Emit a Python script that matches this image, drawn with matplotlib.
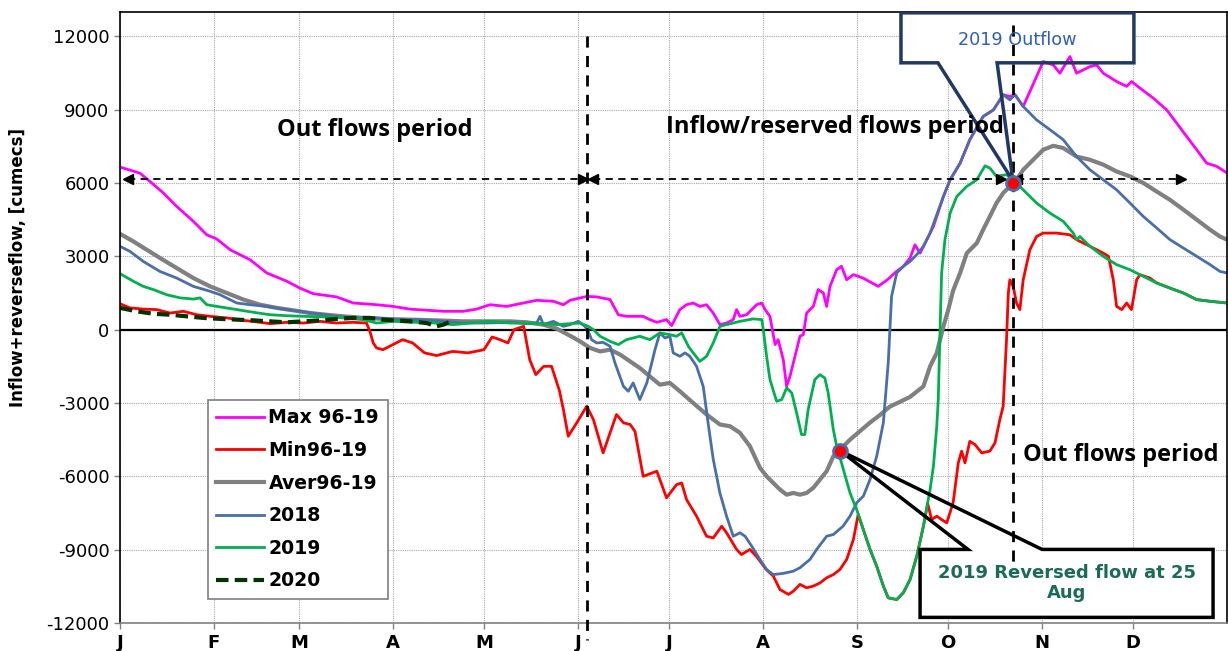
# -*- coding: utf-8 -*-
"""
Inflow + reverse flow, daily curves (max / min / average 96-19, 2018, 2019, 2020)
"""

import matplotlib
matplotlib.use('Agg')
import matplotlib.pyplot as plt
from matplotlib.patches import Polygon

# ---- data (day of year, cumecs) ----
max_day = [0, 6.6, 9.9, 14.3, 18.7, 24.2, 28.6, 31.9, 36.3, 42.9, 48.4, 55, 59.3, 63.7, 71.4,
           76.9, 84.6, 90.1, 95.6, 106.6, 113.2, 117.6, 122, 127.5, 133, 137.4, 142.9, 146.2,
           148.4, 153.9, 157.2, 161.6, 164.3, 167, 172.5, 174.7, 177, 180.2, 181.9, 184.6,
           186.8, 189, 191.2, 193.4, 195.6, 197.8, 200, 202.2, 203.3, 204.4, 206.6, 209.9,
           211.6, 212.7, 214.3, 216, 217, 218.7, 219.8, 220.9, 223.1, 224.2, 225.3, 226.4,
           228.6, 230.2, 231.9, 233, 234.1, 236.3, 237.9, 239.6, 241.8, 245, 250, 253, 256,
           258.3, 260.5, 262.1, 263.8, 268.2, 271.5, 273.7, 277, 280.2, 284.6, 288, 291.2,
           293.4, 295.1, 297.8, 302.2, 304.4, 307.7, 309.9, 313.2, 315.4, 319.8, 322, 324.2,
           328.6, 331.9, 333.5, 336.3, 340.7, 345.1, 348.4, 351.7, 355, 358.3, 361.6, 365]
max_val = [6650, 6400, 6060, 5590, 5040, 4430, 3880, 3710, 3270, 2860, 2320, 1980, 1700, 1470,
           1340, 1090, 1020, 950, 840, 750, 750, 840, 1020, 950, 1090, 1200, 1160, 1020,
           1200, 1360, 1340, 1230, 610, 545, 545, 410, 300, 410, 165, 820,
           1020, 1090, 950, 1020, 680, 205, 270, 410, 820, 545, 610, 1020,
           1090, 820, 545, -610, -410, -1230, -2320, -1910, -820, -270, -205, 680,
           950, 1640, 1500, 950, 1770, 2450, 2590, 2040, 2250, 2110, 1770, 2040, 2380,
           2590, 2930, 3470, 3130, 4220, 5450, 6130, 6810, 7770, 8720, 8990, 9610,
           9540, 9610, 9130, 10350, 10970, 10830, 10490, 11170, 10490, 10760, 10830, 10490,
           10150, 9950, 10150, 9880, 9470, 8990, 8450, 7900, 7360, 6810, 6680, 6410]

min_day = [0, 3.3, 7.7, 12.1, 16.5, 20.9, 25.3, 29.7, 35.2, 40.7, 46.2, 49.5, 55, 60.4, 65.9,
           71.4, 76.9, 81.3, 82.4, 83.5, 84.6, 86.7, 90, 93.2, 96.5, 100.4, 104.4, 109.6,
           114.8, 120, 122.7, 125.3, 127.9, 129.9, 133.1, 135.1, 137.1, 139.7, 142.3, 144.9,
           146.2, 147.8, 150.6, 153.9, 156.1, 159.3, 161.6, 163.7, 166, 168.2, 169.8, 172.5,
           177, 180.2, 183.5, 185.2, 186.8, 190.1, 193.4, 195.6, 198.4, 200, 203.3, 204.9,
           207.7, 210, 213, 215.4, 217.6, 220.4, 222, 224.2, 226.4, 228.6, 230.8, 233, 235.2,
           237.4, 239.6, 241.8, 243.4, 245.1, 247.3, 249.5, 251.7, 253.3, 256.1, 258.3, 260.5,
           262.7, 264.9, 266.3, 267.6, 269.3, 270.9, 272.6, 274.7, 276.4, 277.5, 278.6, 280.2,
           281.9, 284.1, 286.8, 288.5, 290.1, 291.2, 292.3, 292.9, 293.4, 294.5, 295.6, 296.7,
           297.8, 300, 302.2, 304.4, 308.8, 313.2, 315.4, 319.8, 324.2, 325.9, 327.5, 328.6,
           330.3, 331.9, 333.5, 335.2, 336.3, 339.6, 341.8, 346.2, 350.6, 355, 359.4, 365]
min_val = [1060, 890, 840, 820, 680, 750, 610, 545, 480, 380, 300, 245, 300, 270, 340,
           270, 300, 270, -70, -545, -750, -820, -610, -410, -545, -950, -1060, -890,
           -950, -820, -300, -410, -545, 0, 135, -1230, -1840, -1500, -1500, -2500,
           -3270, -4360, -3810, -3130, -3680, -5040, -4220, -3470, -3810, -3880, -4160, -6000,
           -5790, -6880, -6340, -6270, -6950, -7630, -8450, -8520, -8040, -8310, -8990, -9200,
           -8990, -9300, -9800, -10080, -10630, -10830, -10700, -10420, -10560, -10490, -10360, -10150, -10020,
           -9810, -9400, -8590, -7560, -8180, -8990, -9680, -10490, -10970, -11040, -10760, -10220,
           -9270, -8040, -7100, -7770, -7630, -7770, -7900, -7080, -5450, -4970, -5450, -4570,
           -4700, -5040, -4970, -4630, -3680, -3130, -410, 1500, 2040, 1770, 1090, 820,
           2040, 3270, 3810, 3950, 3950, 3880, 3680, 3410, 3130, 3000, 2040, 950,
           820, 1090, 820, 2040, 2250, 2110, 1910, 1700, 1500, 1230, 1160, 1090]

avg_day = [0, 4.4, 8.8, 13.2, 18.7, 24.2, 29.7, 35.2, 40.7, 46.2, 51.7, 57.1, 62.6, 68.1, 73.6,
           80.2, 86.8, 95.6, 104.4, 113.2, 122, 128.6, 134.1, 139.6, 144, 148.4, 151.7, 155,
           158.3, 161.6, 164.9, 168.2, 171.4, 174.7, 178, 181.3, 184.6, 189, 193.4, 197.8,
           201.1, 204.4, 207.7, 211, 213.2, 215.4, 217.6, 219.8, 222, 224.2, 226.4, 228.6,
           230.8, 233, 235.2, 237.4, 240.7, 244, 247.3, 250.5, 253.8, 257.2, 260.5, 264.9,
           267.1, 269.3, 271.5, 273.1, 274.7, 277, 279.2, 282.5, 284.6, 286.8, 289, 291.2,
           293.4, 295.6, 297.8, 301.1, 304.4, 307.7, 311, 315.4, 319.8, 324.2, 328.6, 333,
           337.4, 341.8, 346.2, 350.6, 355, 359.4, 362.7, 365]
avg_val = [3920, 3610, 3270, 2930, 2520, 2110, 1770, 1500, 1230, 1020, 890, 790, 680, 610, 545,
           480, 440, 410, 380, 340, 340, 340, 300, 205, 40, -250, -480, -750,
           -890, -820, -1020, -1300, -1570, -1910, -2250, -2180, -2520, -3000, -3470, -3880,
           -3950, -4220, -4770, -5650, -6000, -6270, -6540, -6750, -6680, -6750, -6680, -6470,
           -6130, -5790, -5180, -4910, -4500, -4150, -3800, -3500, -3150, -2950, -2750, -2320,
           -1500, -950, 135, 820, 1600, 2320, 3130, 3540, 4090, 4630, 5180, 5590,
           5860, 6130, 6540, 6950, 7360, 7520, 7430, 7080, 6950, 6750, 6470, 6270,
           6000, 5650, 5310, 4910, 4500, 4090, 3810, 3680]

y2018_day = [0, 3.3, 7.7, 13.2, 18.7, 24.2, 29.7, 33, 38.5, 42.9, 48.4, 53.8, 59.3, 64.9, 71.4,
             78, 84.6, 91.2, 97.8, 106.6, 113.2, 119.8, 128.6, 134.1, 137.4, 138.5, 139.6, 142.9,
             146.2, 148.4, 151.1, 153.3, 154.4, 155.5, 157.2, 159.3, 161.6, 163.2, 166, 167.6,
             169.2, 171.4, 173.7, 176.4, 178, 179.7, 181.3, 182.4, 184.6, 186.3, 187.9, 190.1,
             192.3, 194, 195.6, 197.8, 200, 202.2, 204.4, 206.1, 208.3, 211, 213.2, 215.4,
             218.7, 222, 224.2, 227.5, 229.7, 233, 235.2, 238.4, 240.7, 242.9, 245.1, 247.3,
             249.5, 251.7, 253.3, 254.4, 256.1, 258.3, 260.5, 262.7, 264.9, 267.1, 271.5, 273.7,
             277, 280.2, 284.6, 288, 291.2, 293.4, 295.1, 297.8, 302.2, 306.6, 311, 315.4,
             319.8, 324.2, 328.6, 333, 337.4, 341.8, 346.2, 350.6, 355, 359.4, 362.7, 365]
y2018_val = [3410, 3200, 2790, 2380, 2110, 1770, 1570, 1430, 1090, 1020, 950, 840, 750, 650, 545,
             480, 480, 410, 410, 340, 270, 270, 300, 245, 270, 545, 205, 340,
             135, 205, 340, 135, -70, -410, -545, -520, -680, -1360, -2320, -2520,
             -2180, -2860, -2180, -820, -135, -340, -270, -950, -1090, -950, -1090, -1500,
             -2320, -3900, -5300, -6680, -7630, -8450, -8310, -8450, -8860, -9400, -9810, -10020,
             -9970, -9880, -9740, -9400, -8990, -8450, -8380, -8040, -7630, -7080, -6810, -6130,
             -5180, -3800, -1360, 1360, 2320, 2590, 2790, 3070, 3410, 3950, 5450, 6130,
             6810, 7770, 8720, 8990, 9610, 9400, 9610, 9130, 8580, 8180, 7770, 7080,
             6540, 6130, 5720, 5180, 4630, 4160, 3680, 3340, 3000, 2660, 2380, 2320]

y2019_day = [0, 4.4, 7.7, 11, 15.4, 19.8, 24.2, 26.4, 28.6, 33, 38.5, 44, 49.5, 55, 60.4,
             68.1, 73.6, 80.2, 84.6, 90.1, 97.8, 104.4, 109.9, 115.4, 122, 128.6, 135.2, 139.6,
             144, 148.4, 151.7, 154.4, 156.1, 158.3, 161.6, 164.3, 167, 171.4, 174.7, 178,
             181.3, 183.5, 185.2, 187.4, 189, 191.2, 193.4, 195.6, 197.8, 200, 204.4, 208.8,
             211.6, 212.1, 213.2, 214.3, 216.5, 218.2, 219.8, 221.5, 223.1, 224.7, 225.8, 226.9,
             229.1, 230.8, 232.4, 233.5, 235.2, 236.3, 237.9, 240.7, 242.9, 245.1, 247.3, 249.5,
             251.7, 253.3, 256.1, 258.3, 260.5, 262.7, 264.9, 267.1, 268.2, 269.3, 269.8, 270.3,
             270.9, 272, 273.7, 275.9, 279.2, 282.5, 285.2, 286.8, 289, 292.3, 294.5, 297.8,
             302.2, 306.6, 311, 314.3, 315.4, 316.5, 319.8, 324.2, 328.6, 333, 337.4, 341.8,
             346.2, 350.6, 355, 359.4, 365]
y2019_val = [2290, 1980, 1770, 1640, 1430, 1300, 1250, 1300, 1020, 930, 820, 710, 610, 570, 545,
             520, 480, 410, 270, 340, 300, 270, 205, 270, 340, 270, 270, 245,
             205, 245, 270, 135, 0, -270, -480, -610, -410, -270, -410, -135,
             -205, -270, -135, -680, -950, -1300, -1090, -545, 135, 205, 340, 440,
             410, 0, -1090, -2040, -2930, -2860, -2380, -2590, -3410, -4290, -4290, -3270,
             -2040, -1840, -1980, -2590, -4090, -4770, -5450, -6680, -7360, -8180, -8990, -9680,
             -10490, -10970, -11040, -10760, -10220, -9270, -8040, -6540, -5590, -3950, -2860, -410,
             2320, 3680, 4770, 5450, 5860, 6130, 6700, 6610, 6270, 6340, 6130, 5720,
             5180, 4770, 4430, 3950, 3680, 3810, 3410, 3000, 2660, 2450, 2180, 1910,
             1700, 1500, 1230, 1160, 1090]

y2020_day = [0, 5.5, 11, 16.5, 22, 27.5, 33, 38.5, 44, 49.5, 55, 60.4, 65.9, 71.4, 76.9,
             82.4, 86.8, 90.1, 95.6, 101.1, 104.4, 106.6, 109.9]
y2020_val = [890, 750, 650, 610, 545, 480, 440, 410, 380, 340, 300, 340, 380, 440, 480,
             480, 410, 380, 340, 270, 135, 205, 380]

# highlighted points: 2019 reversed flow at 25 Aug, 2019 outflow start
mark_day = [237.4, 294.4]
mark_val = [-4950, 6000]

month_start = [0, 31, 59, 90, 120, 151, 181, 212, 243, 273, 304, 334]
month_label = ['J', 'F', 'M', 'A', 'M', 'J', 'J', 'A', 'S', 'O', 'N', 'D']
y_ticks = list(range(-12000, 12001, 3000))

# ---- figure ----
fig = plt.figure(figsize=(12.28, 6.51), dpi=100)
ax = fig.add_axes([0.0977, 0.043, 0.9015, 0.9388])

ax.set_xlim(0, 365)
ax.set_ylim(-12000, 13000)
ax.set_axisbelow(True)
ax.grid(True, color='#A6A6A6', linestyle=(0, (1, 1)), linewidth=0.8)

ax.axhline(0, color='black', linewidth=1.6, zorder=1.8)

# callout boxes (white fill under the curves, outline on top)
top_box = [(257.5, 12960), (334.3, 12960), (334.3, 10915), (289.2, 10915),
           (294.4, 6090), (269.7, 10915), (257.5, 10915)]
bot_box = [(263.8, -8990), (279.6, -8990), (237.4, -4950), (304.0, -8990),
           (360.4, -8990), (360.4, -11770), (263.8, -11770)]
ax.add_patch(Polygon(top_box, closed=True, facecolor='white', edgecolor='none', zorder=1.5))
ax.add_patch(Polygon(bot_box, closed=True, facecolor='white', edgecolor='none', zorder=1.5))
ax.add_patch(Polygon(top_box, closed=True, fill=False, edgecolor='#1F3864', linewidth=2.5, zorder=6))
ax.add_patch(Polygon(bot_box, closed=True, fill=False, edgecolor='black', linewidth=2.5, zorder=6))

# curves
ax.plot(max_day, max_val, color='#FF00FF', linewidth=2, label='Max 96-19', zorder=2)
ax.plot(min_day, min_val, color='#FF0000', linewidth=2, label='Min96-19', zorder=2.1)
ax.plot(avg_day, avg_val, color='#808080', linewidth=3, label='Aver96-19', zorder=2.2)
ax.plot(y2018_day, y2018_val, color='#4A6EA8', linewidth=2, label='2018', zorder=2.3)
ax.plot(y2019_day, y2019_val, color='#00B050', linewidth=2, label='2019', zorder=2.4)
ax.plot(y2020_day, y2020_val, color='#003300', linewidth=3, linestyle=(0, (3, 1.5)),
        label='2020', zorder=2.5)

ax.plot(mark_day, mark_val, linestyle='none', marker='o', markersize=10,
        markerfacecolor='red', markeredgecolor='#4A6EA8', markeredgewidth=2, zorder=7)

# period separators
ax.plot([154, 154], [12000, -12700], color='black', linestyle=(0, (4, 3)),
        linewidth=2, zorder=5, clip_on=False)
ax.plot([294.3, 294.3], [12450, -9600], color='black', linestyle=(0, (4, 3)),
        linewidth=2, zorder=5)

# double headed dashed arrows
for x0, x1 in [(2.6, 152.7), (156.0, 290.5), (295.6, 349.8)]:
    ax.plot([x0, x1], [6150, 6150], color='black', linestyle=(0, (4, 3)), linewidth=1.3, zorder=5)
    ax.plot([x0], [6150], marker='<', color='black', markersize=7, zorder=5)
    ax.plot([x1], [6150], marker='>', color='black', markersize=7, zorder=5)

# texts
period_font = dict(family='Open Sans', fontweight='bold', fontsize=17, color='black',
                   ha='center', va='center', zorder=6)
ax.text(84.1, 8180, 'Out flows period', **period_font)
ax.text(235.7, 8300, 'Inflow/reserved flows period', **period_font)
ax.text(330.0, -5110, 'Out flows period', **period_font)

ax.text(296.0, 11830, '2019 Outflow', color='#2E5FB8', fontsize=12.7,
        ha='center', va='center', zorder=7)
ax.text(312.1, -10380, '2019 Reversed flow at 25\nAug', color='#1B6B58', fontsize=13,
        fontweight='bold', ha='center', va='center', zorder=7, linespacing=1.15)

# axes styling
ax.set_xticks(month_start)
ax.set_xticklabels(month_label, fontsize=13, fontweight='bold')
ax.set_yticks(y_ticks)
ax.set_yticklabels([str(v) for v in y_ticks], fontsize=13)
ax.tick_params(axis='both', direction='out', length=4, width=1, color='#808080')
ax.tick_params(axis='x', pad=4)

ax.set_ylabel('Inflow+reverseflow, [cumecs]', fontsize=12, fontweight='bold')
ax.yaxis.set_label_coords(-0.084, 0.582)

for side in ['left', 'top', 'right']:
    ax.spines[side].set_color('black')
    ax.spines[side].set_linewidth(1.2)
ax.spines['bottom'].set_color('#808080')
ax.spines['bottom'].set_linewidth(1.2)

leg = ax.legend(loc='upper left', bbox_to_anchor=(0.0795, 0.365), borderaxespad=0,
                prop={'weight': 'bold', 'size': 13.6}, frameon=True, fancybox=False,
                edgecolor='#7F7F7F', framealpha=1, handlelength=2.5, handletextpad=0.25,
                labelspacing=0.72, borderpad=0.45)
leg.get_frame().set_linewidth(1.2)
leg.set_zorder(8)

fig.savefig('out.png', dpi=100)
